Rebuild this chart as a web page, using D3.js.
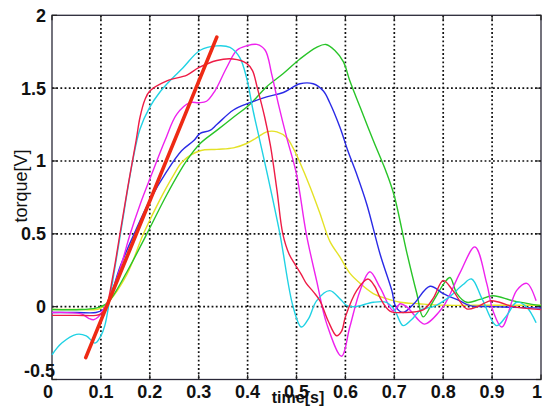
<!DOCTYPE html>
<html><head><meta charset="utf-8">
<script src="https://cdn.jsdelivr.net/npm/d3@7"></script>
<style>body{margin:0;background:#fff}svg{display:block}</style>
</head><body><svg id="c" width="542" height="407"></svg>
<script>
// ---- data ----
const xTicks = [0,0.1,0.2,0.3,0.4,0.5,0.6,0.7,0.8,0.9,1];
const xTickLabels = ["0","0.1","0.2","0.3","0.4","0.5","0.6","0.7","0.8","0.9","1"];
const yTicks = [-0.5,0,0.5,1,1.5,2];
const yTickLabels = ["-0.5","0","0.5","1","1.5","2"];

const redT = [0,0.05,0.09,0.1,0.11,0.125,0.14,0.155,0.172,0.18,0.19,0.2,0.235,0.276,0.3,0.337,0.37,0.398,0.41,0.42,0.435,0.447,0.46,0.472,0.485,0.497,0.51,0.52,0.535,0.548,0.565,0.582,0.592,0.6,0.623,0.646,0.66,0.671,0.691,0.72,0.76,0.78,0.8,0.82,0.848,0.87,0.896,0.915,0.943,1];
const redV = [-0.06,-0.06,-0.06,-0.05,-0.01,0.22,0.52,0.82,1.14,1.3,1.42,1.48,1.55,1.59,1.64,1.69,1.70,1.67,1.62,1.5,1.3,1.1,0.8,0.5,0.36,0.29,0.22,0.16,0.1,0.04,-0.1,-0.2,-0.17,-0.07,0.11,0.19,0.14,0.06,-0.03,-0.04,-0.02,0.06,0.18,0.11,-0.015,0.0,0.04,0.03,0.0,-0.02];

const cyanT = [0,0.02,0.05,0.07,0.088,0.1,0.108,0.118,0.14,0.165,0.18,0.2,0.22,0.241,0.268,0.303,0.337,0.364,0.384,0.398,0.411,0.425,0.439,0.466,0.493,0.51,0.525,0.541,0.568,0.59,0.603,0.62,0.657,0.684,0.7,0.718,0.735,0.755,0.78,0.81,0.84,0.858,0.88,0.909,0.93,0.95,0.97,0.99];
const cyanV = [-0.33,-0.25,-0.19,-0.2,-0.25,-0.2,-0.13,0.05,0.5,1.0,1.22,1.37,1.47,1.55,1.64,1.76,1.79,1.78,1.71,1.57,1.35,1.14,0.93,0.5,0.0,-0.14,-0.08,0.04,0.11,0.05,0.007,0.0,0.03,0.03,-0.02,-0.13,-0.09,-0.02,0.0,0.06,0.15,0.19,0.05,-0.13,-0.06,0.03,0.0,-0.11];

const magentaT = [0,0.06,0.075,0.085,0.095,0.105,0.118,0.14,0.16,0.18,0.204,0.231,0.255,0.282,0.3,0.316,0.333,0.357,0.378,0.398,0.419,0.436,0.449,0.463,0.48,0.5,0.52,0.541,0.562,0.592,0.609,0.63,0.65,0.671,0.698,0.712,0.725,0.752,0.762,0.8,0.834,0.865,0.889,0.902,0.92,0.95,0.971,0.99];
const magentaV = [-0.04,-0.05,-0.08,-0.09,-0.07,-0.02,0.06,0.27,0.5,0.7,0.91,1.14,1.32,1.40,1.40,1.41,1.48,1.64,1.76,1.79,1.80,1.76,1.6,1.39,1.16,0.91,0.5,0.18,-0.12,-0.34,-0.14,0.11,0.24,0.13,-0.03,0.02,0.0,-0.1,-0.12,0.0,0.23,0.41,0.16,-0.03,-0.14,0.11,0.16,0.04];

const blueT = [0,0.05,0.09,0.105,0.115,0.14,0.168,0.2,0.235,0.265,0.29,0.303,0.323,0.337,0.371,0.405,0.439,0.473,0.507,0.534,0.555,0.568,0.589,0.605,0.623,0.644,0.671,0.695,0.703,0.718,0.74,0.773,0.8,0.834,0.855,0.9,1];
const blueV = [-0.04,-0.04,-0.04,-0.02,0.03,0.28,0.5,0.73,0.93,1.07,1.14,1.19,1.21,1.25,1.35,1.40,1.44,1.47,1.53,1.53,1.48,1.40,1.23,1.07,0.91,0.7,0.36,0.11,0.0,-0.04,0.02,0.14,0.09,0.04,0.007,0.0,-0.01];

const greenT = [0,0.06,0.09,0.1,0.115,0.155,0.194,0.235,0.275,0.303,0.337,0.371,0.405,0.439,0.473,0.507,0.541,0.56,0.578,0.596,0.609,0.63,0.657,0.684,0.7,0.725,0.746,0.759,0.78,0.804,0.814,0.828,0.848,0.875,0.902,0.943,1];
const greenV = [-0.02,-0.02,-0.01,0.0,0.03,0.25,0.5,0.77,1.0,1.12,1.21,1.30,1.39,1.51,1.60,1.70,1.78,1.80,1.76,1.68,1.55,1.37,1.14,0.92,0.76,0.38,0.09,-0.07,0.04,0.17,0.2,0.09,0.03,0.05,0.075,0.04,0.007];

const yellowT = [0,0.06,0.09,0.1,0.115,0.153,0.187,0.22,0.248,0.268,0.303,0.337,0.371,0.398,0.419,0.439,0.46,0.48,0.493,0.507,0.528,0.548,0.568,0.589,0.609,0.63,0.657,0.684,0.712,0.75,0.8,0.9,1];
const yellowV = [-0.02,-0.02,-0.02,-0.01,0.03,0.22,0.5,0.73,0.9,1.0,1.07,1.08,1.09,1.12,1.16,1.20,1.20,1.16,1.09,0.99,0.82,0.64,0.45,0.34,0.23,0.16,0.09,0.055,0.03,0.02,0.01,0.01,0.01];

const fitT = [0.069,0.337];
const fitV = [-0.35,1.85];

const seriesNames = ["yellow","green","blue","magenta","cyan","red"];
const seriesColors = ["#e4e226","#28c428","#2a2ae6","#ee22ee","#20d2e4","#ee1c46"];
const seriesT = [yellowT,greenT,blueT,magentaT,cyanT,redT];
const seriesV = [yellowV,greenV,blueV,magentaV,cyanV,redV];

// ---- drawing ----
const svg = d3.select("#c");
const x = d3.scaleLinear().domain([0,1]).range([52,541]);
const y = d3.scaleLinear().domain([-0.5,2]).range([379.5,15.3]);
const font = "'Liberation Sans', Arial, Helvetica, sans-serif";

// grid
const grid = svg.append("g").attr("stroke","#111").attr("stroke-width",1.7).attr("stroke-dasharray","1.8,2.4");
grid.selectAll("line.v").data(xTicks.slice(1,-1)).join("line")
  .attr("x1",d=>x(d)).attr("x2",d=>x(d)).attr("y1",y(2)).attr("y2",y(-0.5));
grid.selectAll("line.h").data(yTicks.slice(1,-1)).join("line")
  .attr("y1",d=>y(d)).attr("y2",d=>y(d)).attr("x1",x(0)).attr("x2",x(1));

// box
svg.append("rect").attr("x",x(0)).attr("y",y(2)).attr("width",x(1)-x(0)).attr("height",y(-0.5)-y(2))
  .attr("fill","none").attr("stroke","#2a2838").attr("stroke-width",1.3);

// ticks (inward)
const tk = svg.append("g").attr("stroke","#222").attr("stroke-width",1.2);
xTicks.forEach(d=>{
  tk.append("line").attr("x1",x(d)).attr("x2",x(d)).attr("y1",y(-0.5)).attr("y2",y(-0.5)-5);
  tk.append("line").attr("x1",x(d)).attr("x2",x(d)).attr("y1",y(2)).attr("y2",y(2)+5);
});
yTicks.forEach(d=>{
  tk.append("line").attr("x1",x(0)).attr("x2",x(0)+5).attr("y1",y(d)).attr("y2",y(d));
  tk.append("line").attr("x1",x(1)).attr("x2",x(1)-5).attr("y1",y(d)).attr("y2",y(d));
});

// tick labels
svg.append("g").selectAll("text").data(xTicks).join("text")
  .attr("x",(d,i)=> x(d) + (i===0?-4:(i===xTicks.length-1?-4:0)))
  .attr("y",398).attr("text-anchor","middle")
  .attr("font-family",font).attr("font-size",18).attr("font-weight","bold").attr("fill","#111")
  .text((d,i)=>xTickLabels[i]);
svg.append("g").selectAll("text").data(yTicks).join("text")
  .attr("x",(d,i)=> i===0?55:46)
  .attr("y",(d,i)=> y(d) + (i===0?-9:0)).attr("dy","0.36em").attr("text-anchor","end")
  .attr("font-family",font).attr("font-size",18).attr("font-weight","bold").attr("fill","#111")
  .text((d,i)=>yTickLabels[i]);

// axis titles
svg.append("text").attr("x",298).attr("y",403).attr("text-anchor","middle")
  .attr("font-family",font).attr("font-size",16).attr("font-weight","bold").attr("fill","#111").text("time[s]");
svg.append("text").attr("transform","translate(27,186) rotate(-90)").attr("text-anchor","middle")
  .attr("font-family",font).attr("font-size",18).attr("fill","#111").text("torque[V]");

// series
const line = d3.line().x(d=>x(d[0])).y(d=>y(d[1])).curve(d3.curveCatmullRom.alpha(0.5));
seriesNames.forEach((n,i)=>{
  const pts = seriesT[i].map((t,j)=>[t,seriesV[i][j]]);
  svg.append("path").datum(pts).attr("d",line).attr("fill","none")
    .attr("stroke",seriesColors[i]).attr("stroke-width",1.4).attr("stroke-linejoin","round");
});
// fitted line
svg.append("path").datum(fitT.map((t,j)=>[t,fitV[j]])).attr("d",d3.line().x(d=>x(d[0])).y(d=>y(d[1])))
  .attr("stroke","#ee2a14").attr("stroke-width",3.6).attr("stroke-linecap","round").attr("fill","none");
</script></body></html>
